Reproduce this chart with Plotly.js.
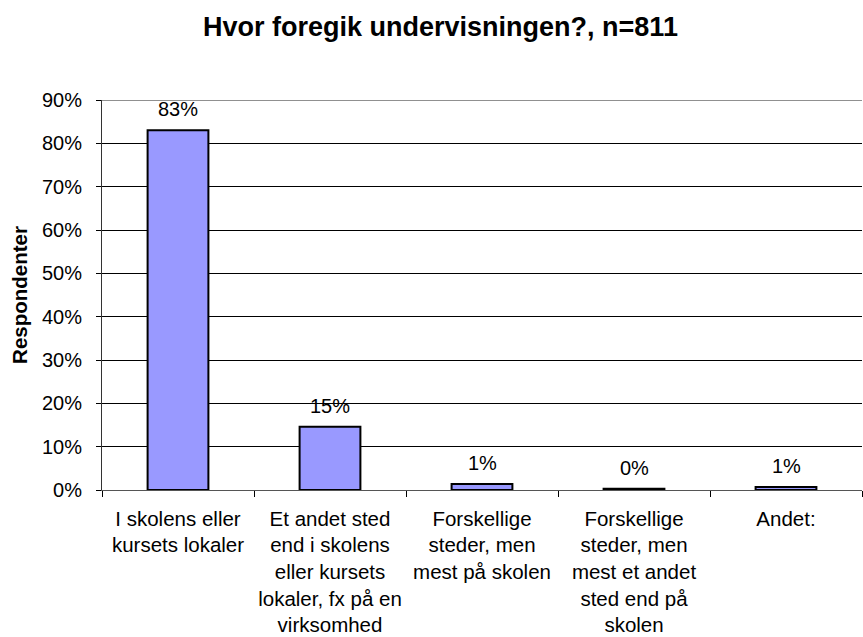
<!DOCTYPE html>
<html>
<head>
<meta charset="utf-8">
<script src="https://cdn.plot.ly/plotly-3.0.1.min.js"></script>
<style>
  html, body { margin: 0; padding: 0; background: #fff; }
  #chart { width: 863px; height: 637px; }
</style>
</head>
<body>
<div id="chart"></div>
<script>
// Categories (x axis), wrapped like the original
let categories = [
    'I skolens eller<br>kursets lokaler',
    'Et andet sted<br>end i skolens<br>eller kursets<br>lokaler, fx på en<br>virksomhed',
    'Forskellige<br>steder, men<br>mest på skolen',
    'Forskellige<br>steder, men<br>mest et andet<br>sted end på<br>skolen',
    'Andet:',
];

// Share of respondents, in percent
let shares = [83, 14.6, 1.4, 0.3, 0.7];

// y axis ticks
let yTickVals = [0, 10, 20, 30, 40, 50, 60, 70, 80, 90];
let yTickText = yTickVals.map(v => v + '%');

let fontFam = 'Liberation Sans, Arial, sans-serif';

let data = [{
    type: 'bar',
    x: categories,
    y: shares,
    marker: {
        color: '#9999FF',
        line: { color: '#000000', width: 2 },
    },
    hoverinfo: 'none',
}];

// value labels above each bar
let labels = shares.map((v, i) => ({
    x: categories[i],
    y: v,
    text: Math.round(v) + '%',
    showarrow: false,
    yanchor: 'bottom',
    yshift: 8,
    font: { family: fontFam, size: 20, color: '#000' },
}));

let layout = {
    width: 863,
    height: 637,
    margin: { l: 102, r: 1, t: 100, b: 147, pad: 0 },
    paper_bgcolor: '#ffffff',
    plot_bgcolor: '#ffffff',
    showlegend: false,
    bargap: 0.6,
    font: { family: fontFam, size: 20, color: '#000' },
    title: {
        text: '<b>Hvor foregik undervisningen?, n=811</b>',
        font: { family: fontFam, size: 27, color: '#000' },
        x: 0.5104,
        xanchor: 'center',
        y: 0.958,
        yanchor: 'middle',
    },
    xaxis: {
        type: 'category',
        tickson: 'boundaries',
        ticks: 'outside',
        ticklen: 6,
        tickcolor: '#000',
        tickangle: 0,
        showline: true,
        linecolor: '#555',
        linewidth: 1,
        showgrid: false,
        tickfont: { family: fontFam, size: 20.5, color: '#000' },
        ticklabelstandoff: 10,
    },
    yaxis: {
        range: [0, 90],
        tickvals: yTickVals,
        ticktext: yTickText,
        ticks: 'outside',
        ticklen: 5,
        tickcolor: '#000',
        showline: true,
        linecolor: '#333',
        linewidth: 1,
        showgrid: true,
        gridcolor: '#000',
        gridwidth: 1,
        zeroline: false,
        tickfont: { family: fontFam, size: 20, color: '#000' },
        ticklabelstandoff: 10,
        title: {
            text: '<b>Respondenter</b>',
            font: { family: fontFam, size: 20.5, color: '#000' },
            standoff: 8,
        },
    },
    annotations: labels,
    shapes: [{
        type: 'line',
        xref: 'paper', yref: 'y',
        x0: 0, x1: 1, y0: 90, y1: 90,
        line: { color: '#909090', width: 2 },
    }],
};

let config = { staticPlot: true, displayModeBar: false };

Plotly.newPlot('chart', data, layout, config);
</script>
</body>
</html>
